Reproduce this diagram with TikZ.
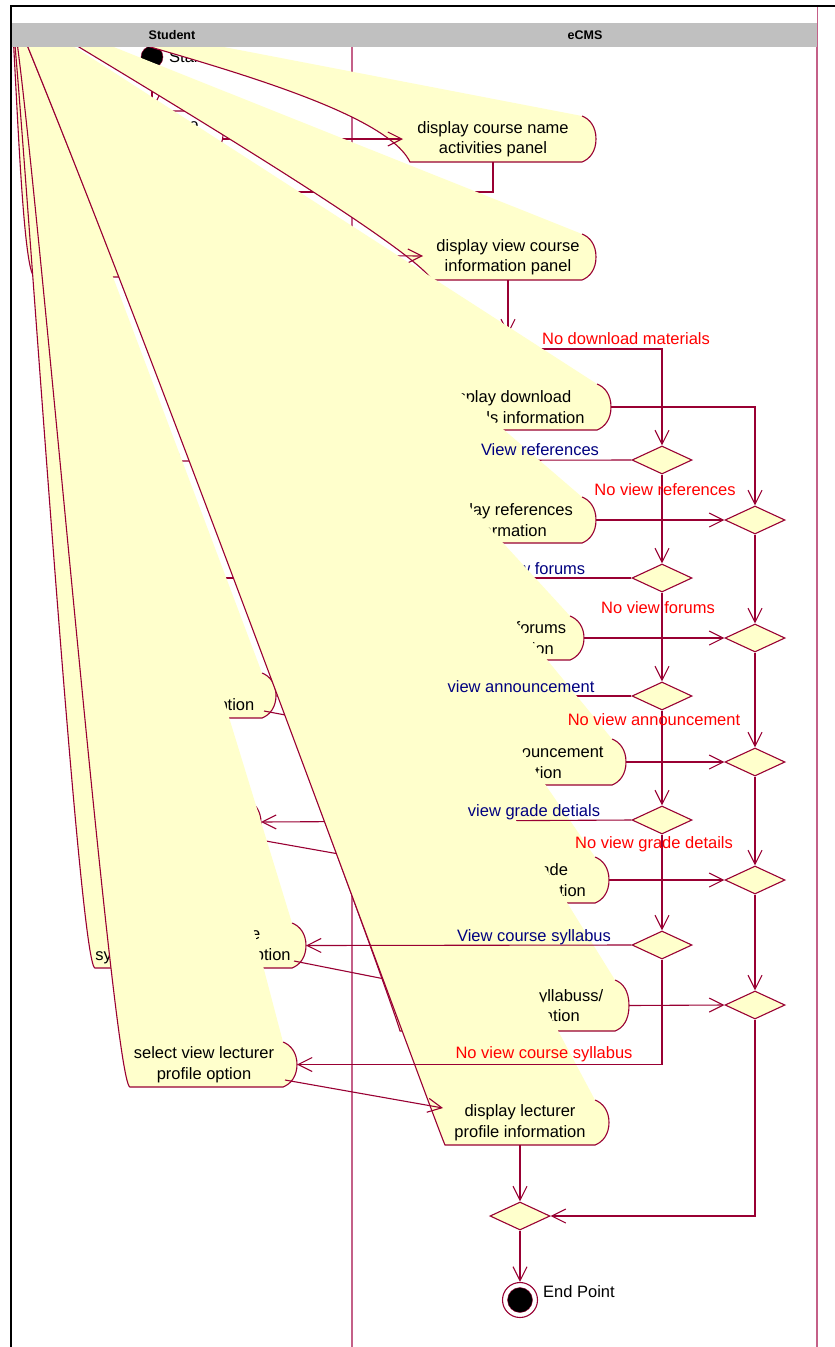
\documentclass[tikz,border=0pt]{standalone}
\usepackage{fontspec}
\setmainfont{Liberation Sans}
\usetikzlibrary{shapes.geometric,arrows.meta,positioning,calc}

\definecolor{actfill}{RGB}{255,255,204}
\definecolor{actline}{RGB}{153,0,51}
\definecolor{laneline}{RGB}{196,96,136}
\definecolor{lanehead}{RGB}{192,192,192}
\definecolor{guardno}{RGB}{255,0,0}
\definecolor{guardyes}{RGB}{0,0,128}

\tikzset{
	smear fill/.style={fill=actfill},
	smear line/.style={draw=actline, line width=1.1pt},
	act text/.style={align=center, inner sep=0pt, text=black},
	flow/.style={draw=actline, line width=1.1pt, -{Straight Barb[length=14pt,width=14pt]}},
	choice/.style={shape=diamond, draw=actline, fill=actfill, line width=1.1pt,
		minimum width=60pt, minimum height=28pt, inner sep=0pt},
	guard no/.style={text=guardno, inner sep=0pt},
	guard yes/.style={text=guardyes, inner sep=0pt},
	lane/.style={draw=laneline, line width=1.2pt},
	lane title/.style={font=\bfseries\fontsize{12.5}{14}\selectfont, inner sep=0pt}
}

% activity whose left end collapsed into the corner (org)
% #1 name, #2 left x, #3 arc x, #4 top, #5 bottom, #6 #7 controls, #8 text x, #9 text
\newcommand{\actsmear}[9]{%
	\path[smear fill] (org) -- (#3,#4) .. controls ({#3+8},{#4+3}) and ({#3+14},{#4+11}) .. ({#3+14},{(#4+#5)/2})
		.. controls ({#3+14},{#5-11}) and ({#3+8},{#5-3}) .. (#3,#5) -- (#2,#5) .. controls #7 and #6 .. (org) -- cycle;
	\draw[smear line] (#3,#4) .. controls ({#3+8},{#4+3}) and ({#3+14},{#4+11}) .. ({#3+14},{(#4+#5)/2}) coordinate (#1-e)
		.. controls ({#3+14},{#5-11}) and ({#3+8},{#5-3}) .. (#3,#5) -- (#2,#5) .. controls #7 and #6 .. (org);
	\node[act text] (#1) at (#8,{(#4+#5)/2}) {#9};
	\coordinate (#1-n) at (#8,#4);
	\coordinate (#1-s) at (#8,#5);
	\coordinate (#1-se) at ({#3+2},{#5-7});
}

\begin{document}
\begin{tikzpicture}[x=1pt, y=-1pt, font=\fontsize{16.5}{20.5}\selectfont]
\useasboundingbox (0,0) rectangle (835,1347);
\fill[white] (0,0) rectangle (835,1347);
\coordinate (org) at (11,6);

% swimlanes
\draw[lane] (352,47) -- (352,1347);
\draw[lane] (817,7) -- (817,1347);

% decisions and merges on the eCMS side
\node[choice] (chkref) at (662,460) {};
\node[choice] (chkfor) at (662,578) {};
\node[choice] (chkann) at (662,696) {};
\node[choice] (chkgrd) at (662,820) {};
\node[choice] (chksyl) at (662,945) {};
\node[choice] (joinref) at (755,520) {};
\node[choice] (joinfor) at (755,638) {};
\node[choice] (joinann) at (755,762) {};
\node[choice] (joingrd) at (755,880) {};
\node[choice] (joinsyl) at (755,1005) {};
\node[choice] (joinall) at (520,1216) {};

% ends of connectors into the bent shapes
\coordinate (dcn-in) at (403,139);
\coordinate (dvc-in) at (423,256);
\coordinate (dan-in) at (440,744);
\coordinate (dgd-in) at (440,872);
\coordinate (dsy-in) at (420,986);
\coordinate (dlp-in) at (443,1108);
\coordinate (svr-e) at (164,461);
\coordinate (svf-e) at (204,578);
\coordinate (sva-e) at (276,696);
\coordinate (svg-e) at (261,822);

% start
\node[circle, fill=black, draw=actline, minimum size=22pt, inner sep=0pt] (start) at (152,57) {};
\node[anchor=west, inner sep=0pt] (startlbl) at (169,57) {Start Point};
\draw[smear line] (100,111) -- (205,111) .. controls (214,114) and (223,124) .. (223,135)
	.. controls (223,146) and (214,156) .. (205,159) -- (100,159) .. controls (91,156) and (85,146) .. (85,135)
	.. controls (85,124) and (91,114) .. (100,111);
\node[act text] (selc) at (150,125) {select course};
\coordinate (selc-n) at (152,111);
\coordinate (selc-e) at (223,139);
\draw[flow] (start) -- (selc-n);

\actsmear{svc}{35}{220}{233}{277}{(16,60)}{(22,277)}{130}{}
\actsmear{dcn}{410}{582}{116}{162}{(130,45)}{(380,100)}{493}{display course name\\activities panel}
\draw[flow] (selc-e) -- (dcn-in);
\draw[flow] (dcn-s) -- ++(0,30) -| (svc-n);
\actsmear{dvc}{432}{582}{234}{280}{(150,90)}{(410,245)}{508}{display view course\\information panel}
\draw[flow] (svc-e) -- (dvc-in);
\node[choice] (chkdl) at (508,349) {};
\draw[flow] (dvc-s) -- (chkdl);
\draw[flow] (chkdl.east) -| (chkref.north);
\node[guard no] (gdl) at (626,339) {No download materials};

\actsmear{ddm}{440}{597}{384}{430}{(160,160)}{(410,400)}{508}{display download\\materials information}
\draw[flow] (chkref.west) -- (svr-e);
\actsmear{drf}{445}{582}{497}{543}{(160,200)}{(415,510)}{506}{display references\\information}
\node[guard yes] (gref) at (540,450) {View references};
\draw[flow] (chkfor.west) -- (svf-e);
\node[guard yes] (gfor) at (540,569) {View forums};
\actsmear{dfo}{460}{570}{616}{660}{(170,245)}{(430,625)}{513}{display forums\\information}
\draw[flow] (chkann.west) -- (sva-e);
\actsmear{dan}{450}{612}{739}{785}{(160,290)}{(420,750)}{521}{display announcement\\information}
\actsmear{dgd}{470}{595}{857}{903}{(170,330)}{(440,870)}{519}{display grade\\details information}
\node[guard yes] (gann) at (521,687) {view announcement};
\draw[flow] (chkgrd.west) -- (svg-e);

% student side
\actsmear{svr}{100}{150}{438}{484}{(20,120)}{(85,484)}{125}{}
\actsmear{svf}{120}{190}{556}{601}{(25,140)}{(100,601)}{155}{}
\actsmear{sva}{150}{262}{673}{718}{(30,150)}{(130,718)}{175}{select view\\announcement option}
\draw[flow] (sva-se) -- (dan-in);
\actsmear{svg}{140}{247}{800}{845}{(30,170)}{(120,845)}{185}{select view grade\\details option}
\draw[flow] (svg-se) -- (dgd-in);
\actsmear{svs}{95}{292}{923}{968}{(20,60)}{(78,968)}{193}{select view course\\syllabus information option}
\draw[flow] (svs-se) -- (dsy-in);
\actsmear{svl}{130}{283}{1042}{1087}{(28,60)}{(112,1087)}{204}{select view lecturer\\profile option}

\actsmear{dsy}{400}{615}{980}{1031}{(150,340)}{(390,995)}{512}{display course syllabuss/\\course information}
\actsmear{dlp}{445}{595}{1100}{1145}{(150,340)}{(430,1110)}{520}{display lecturer\\profile information}

% on top
\node[guard yes] (ggrd) at (534,812) {view grade detials};
\draw[flow] (chksyl.west) -- (svs-e);
\node[guard yes] (gsyl) at (534,937) {View course syllabus};
\draw[flow] (chksyl.south) |- (svl-e);
\node[guard no] (gnsyl) at (544,1054) {No view course syllabus};
\draw[flow] (svl-se) -- (dlp-in);

\draw[flow] (chkref) -- (chkfor);
\node[guard no] (gnref) at (665,490) {No view references};
\draw[flow] (chkfor) -- (chkann);
\node[guard no] (gnfor) at (658,608) {No view forums};
\draw[flow] (chkann) -- (chkgrd);
\node[guard no] (gnann) at (654,720) {No view announcement};
\draw[flow] (chkgrd) -- (chksyl);
\node[guard no] (gngrd) at (654,844) {No view grade details};

\draw[flow] (ddm-e) -| (joinref.north);
\draw[flow] (drf-e) -- (joinref.west);
\draw[flow] (joinref) -- (joinfor);
\draw[flow] (dfo-e) -- (joinfor.west);
\draw[flow] (joinfor) -- (joinann);
\draw[flow] (dan-e) -- (joinann.west);
\draw[flow] (joinann) -- (joingrd);
\draw[flow] (dgd-e) -- (joingrd.west);
\draw[flow] (joingrd) -- (joinsyl);
\draw[flow] (dsy-e) -- (joinsyl.west);
\draw[flow] (joinsyl.south) |- (joinall.east);
\draw[flow] (dlp-s) -- (joinall);

\node[circle, draw=actline, fill=white, line width=1.1pt, minimum size=35pt, inner sep=0pt] (finish) at (520,1300) {};
\node[circle, fill=black, draw=actline, minimum size=25pt, inner sep=0pt] (finishdot) at (finish) {};
\node[anchor=west, inner sep=0pt] (finishlbl) at (543,1292) {End Point};
\draw[flow] (joinall) -- (finish);

% header and frame
\fill[white] (12,7) rectangle (817,23);
\fill[lanehead] (12,23) rectangle (817,47);
\node[lane title] (studentlane) at (172,35) {Student};
\node[lane title] (ecmslane) at (585,35) {eCMS};
\draw[line width=2pt] (11,1347) -- (11,6) -- (835,6);
\end{tikzpicture}
\end{document}
